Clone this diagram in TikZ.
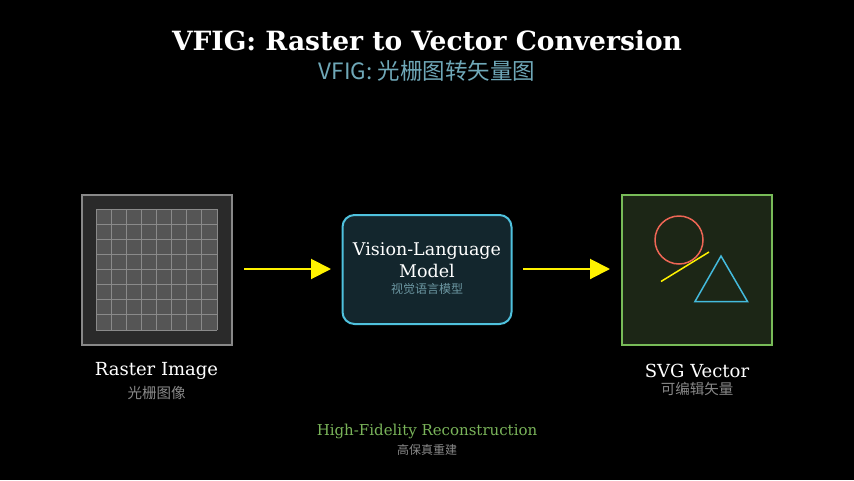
\documentclass[tikz,border=0pt]{standalone}
\usepackage{fontspec}
\setmainfont{DejaVu Serif}
\newfontfamily\cjk{Noto Sans CJK SC}
\usetikzlibrary{arrows.meta}
\definecolor{rastfill}{HTML}{2A2A2A}
\definecolor{rastedge}{HTML}{888888}
\definecolor{gridfill}{HTML}{555555}
\definecolor{gridline}{HTML}{8A8A8A}
\definecolor{vlmfill}{HTML}{13262D}
\definecolor{vlmedge}{HTML}{4FC1DD}
\definecolor{svgfill}{HTML}{1C2616}
\definecolor{svgedge}{HTML}{78BB58}
\definecolor{circ}{HTML}{EE6655}
\definecolor{tri}{HTML}{44BBDD}
\definecolor{subcol}{HTML}{6FA8B8}
\definecolor{graytxt}{HTML}{888888}
\definecolor{vlmsub}{HTML}{6C97A2}
\definecolor{greentxt}{HTML}{7AB45A}
\tikzset{
  lbl/.style={text=white, font=\fontsize{18}{21}\selectfont, inner sep=0},
  sublbl/.style={text=graytxt, font=\cjk\fontsize{14.5}{17}\selectfont, inner sep=0},
  flow/.style={yellow, line width=2pt, -{Triangle[length=20pt,width=20pt]}},
}
\begin{document}
\begin{tikzpicture}[x=1pt,y=-1pt]
\fill[black] (0,0) rectangle (854,480);
\useasboundingbox (0,0) rectangle (854,480);
% title
\node[text=white, font=\bfseries\fontsize{26.5}{30}\selectfont, inner sep=0] (title) at (427,41) {VFIG: Raster to Vector Conversion};
\node[text=subcol, font=\cjk\fontsize{22.5}{26}\selectfont, inner sep=0] (subtitle) at (427,71) {VFIG: 光栅图转矢量图};
% raster
\node[draw=rastedge, fill=rastfill, line width=2pt, minimum width=150pt, minimum height=150pt, inner sep=0] (raster) at (156.5,269.5) {};
\fill[gridfill] (96,209) rectangle (217,330);
\foreach \i in {0,...,8} {
  \draw[gridline, line width=1pt] (96+15.125*\i,209) -- (96+15.125*\i,330);
  \draw[gridline, line width=1pt] (96,209+15.125*\i) -- (217,209+15.125*\i);
}
\node[lbl] (rl) at (156.5,371) {Raster Image};
\node[sublbl] (rs) at (156.5,393) {光栅图像};
% vlm
\node[draw=vlmedge, fill=vlmfill, line width=2pt, rounded corners=12pt, minimum width=169pt, minimum height=109pt, inner sep=0] (vlm) at (427,269.5) {};
\node[text=white, font=\fontsize{17.5}{20}\selectfont, inner sep=0] (v1) at (427,251) {Vision-Language};
\node[text=white, font=\fontsize{17.5}{20}\selectfont, inner sep=0] (v2) at (427,271) {Model};
\node[text=vlmsub, font=\cjk\fontsize{12}{14}\selectfont, inner sep=0] (v3) at (427,289) {视觉语言模型};
% svg
\node[draw=svgedge, fill=svgfill, line width=2pt, minimum width=150pt, minimum height=150pt, inner sep=0] (svg) at (697,269.5) {};
\draw[circ, line width=1.5pt] (679,240) circle (24pt);
\draw[yellow, line width=1.5pt] (661,281.5) -- (709,252);
\draw[tri, line width=1.5pt] (721,256) -- (747.5,301.5) -- (695,301.5) -- cycle;
\node[lbl] (sl) at (697,371) {SVG Vector};
\node[sublbl] (ss) at (697,389) {可编辑矢量};
% arrows
\coordinate (a1s) at (244,269);
\coordinate (a1e) at (331,269);
\coordinate (a2s) at (523,269);
\coordinate (a2e) at (610,269);
\draw[flow] (a1s) -- (a1e);
\draw[flow] (a2s) -- (a2e);
% bottom
\node[text=greentxt, font=\fontsize{15}{18}\selectfont, inner sep=0] (hf) at (427,431) {High-Fidelity Reconstruction};
\node[sublbl, font=\cjk\fontsize{12}{14}\selectfont] (hfs) at (427,450) {高保真重建};
\end{tikzpicture}
\end{document}
